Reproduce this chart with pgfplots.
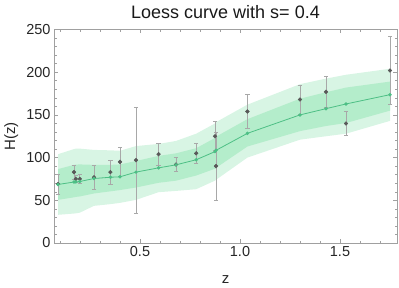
\documentclass[border=0pt]{standalone}
\usepackage{pgfplots}
\usepackage{pgfplotstable}
\pgfplotsset{compat=1.18}
\usepgfplotslibrary{fillbetween}
\usetikzlibrary{calc}
\usepackage{fontspec}
\setmainfont{Liberation Sans}
\definecolor{outerb}{HTML}{D8F5E4}
\definecolor{innerb}{HTML}{B4EDCB}
\definecolor{fitg}{HTML}{4DBF85}
\definecolor{ptg}{HTML}{585858}
\definecolor{errg}{HTML}{A8A8A8}
\definecolor{frameg}{HTML}{A0A0A0}

\pgfplotstableread{
z olo ilo fit ihi ohi
0.09 33 50.5 68.5 86.5 104
0.17 34.5 53.5 71.4 91.5 110
0.179 34.7 54 71.5 91.8 110.5
0.199 35.5 54.5 72 92 110.5
0.27 43.5 58 75.5 91.5 109
0.352 45.5 60.5 77 91.5 108.5
0.4 47 62 77.5 92 108
0.48 50.5 65 83 96 113.5
0.593 59.5 70.5 88 102 116
0.68 61 73 91.5 105 119.5
0.781 63 79 97.5 111 128
0.875 73 87 107 123 140
0.88 74 88 108.5 124.5 141.5
1.037 100 113 128.4 145 162
1.3 121 131 150 169 186
1.43 125 137 157.3 176.5 192.5
1.53 128 140.5 162.8 182 197
1.75 143 155 173.7 189 204
}\band

\pgfplotstableread{
z H e
0.09 69 12
0.17 83 8
0.179 75 4
0.199 75 5
0.27 77 14
0.352 83 14
0.4 95 17
0.48 97 62
0.593 104 13
0.68 92 8
0.781 105 12
0.875 125 17
0.88 90 40
1.037 154 20
1.3 168 17
1.43 177 18
1.53 140 14
1.75 202 40
}\obs

\begin{document}
\begin{tikzpicture}
\begin{axis}[
  scale only axis, width=343bp, height=213.5bp,
  xmin=0.07, xmax=1.785, ymin=0, ymax=250,
  axis line style={draw=frameg, line width=0.6pt},
  xtick={0.5,1.0,1.5},
  minor xtick={0.1,0.2,0.3,0.4,0.6,0.7,0.8,0.9,1.1,1.2,1.3,1.4,1.6,1.7},
  ytick={0,50,100,150,200,250},
  minor ytick={10,20,30,40,60,70,80,90,110,120,130,140,160,170,180,190,210,220,230,240},
  tick align=inside, major tick length=4bp, minor tick length=2.5bp,
  every tick/.style={frameg, line width=0.5pt},
  xtick pos=both, ytick pos=both,
  ticklabel style={font=\fontsize{14.5bp}{16bp}\selectfont, text=black!85},
  /pgf/number format/assume math mode=true,
  xticklabel style={/pgf/number format/.cd, fixed, fixed zerofill, precision=1},
  yticklabel style={/pgf/number format/.cd, fixed, precision=0},
  every axis title shift=0pt,
  title={Loess curve with s= 0.4},
  title style={at={(axis description cs:0.5,1)}, anchor=base, yshift=11.2bp, font=\fontsize{18bp}{20bp}\selectfont, text=black!90},
  xlabel={z}, ylabel={H(z)},
  every axis x label/.style={at={(axis description cs:0.5,0)}, anchor=base, yshift=-40bp, font=\fontsize{15bp}{17bp}\selectfont, text=black!85},
  every axis y label/.style={at={(axis description cs:0,0.5)}, xshift=-39bp, rotate=90, anchor=base, font=\fontsize{15bp}{17bp}\selectfont, text=black!85},
  clip=false,
]
\coordinate (ll) at (rel axis cs:0,0);
\coordinate (ur) at (rel axis cs:1,1);
\addplot[name path=ohi, draw=none, forget plot] table[x=z,y=ohi]{\band};
\addplot[name path=olo, draw=none, forget plot] table[x=z,y=olo]{\band};
\addplot[name path=ihi, draw=none, forget plot] table[x=z,y=ihi]{\band};
\addplot[name path=ilo, draw=none, forget plot] table[x=z,y=ilo]{\band};
\addplot[fill=outerb, draw=none] fill between[of=ohi and olo];
\addplot[fill=innerb, draw=none] fill between[of=ihi and ilo];
\addplot[only marks, mark=*, mark size=1.9pt, color=ptg,
  error bars/.cd, y dir=both, y explicit,
  error bar style={color=errg, line width=0.8pt},
  error mark options={rotate=90, mark size=2.2pt, color=errg, line width=0.6pt}]
  table[x=z,y=H,y error=e]{\obs};
\addplot[color=fitg, line width=0.8pt, mark=*, mark size=1.3pt, mark options={fill=fitg, draw=fitg}] table[x=z,y=fit]{\band};
\end{axis}
\pgfresetboundingbox
\path[use as bounding box] ($(ll)+(-54bp,-45bp)$) rectangle ($(ur)+(2bp,29.5bp)$);
\end{tikzpicture}
\end{document}
